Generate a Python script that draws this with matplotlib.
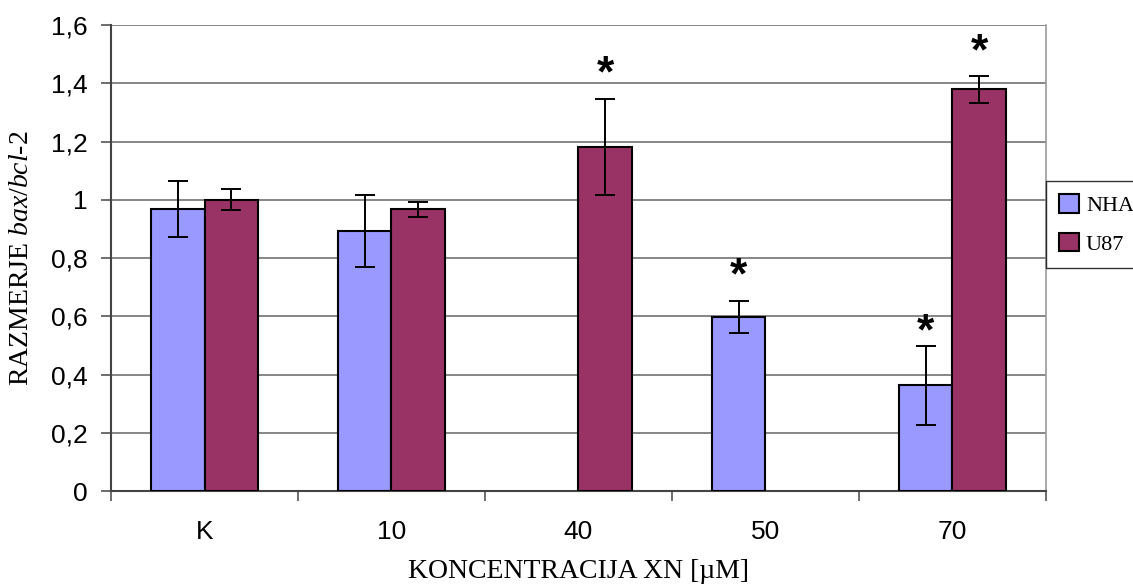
import numpy as np
from matplotlib import pyplot as plt
from matplotlib import transforms

# --- data
categories = ['K', '10', '40', '50', '70']
nha = [0.968, 0.894, 0.0, 0.598, 0.363]
nha_err = [0.096, 0.123, 0.0, 0.055, 0.135]
u87 = [1.0, 0.968, 1.182, 0.0, 1.380]
u87_err = [0.036, 0.025, 0.165, 0.0, 0.046]
# significance marks: (category index, series, height of star centre)
star_cat = [2, 3, 4, 4]
star_series = [1, 0, 0, 1]
star_y = [1.463, 0.77, 0.577, 1.538]

plt.rcParams['mathtext.fontset'] = 'custom'
plt.rcParams['mathtext.rm'] = 'Liberation Serif'
plt.rcParams['mathtext.it'] = 'Liberation Serif:italic'

fig = plt.figure(figsize=(11.33, 5.87), dpi=100)
ax = fig.add_axes([0.098, 0.1635, 0.825, 0.7935])

x = np.arange(len(categories))
w = 1 / 3.5
nha_col = '#9999FF'
u87_col = '#993366'

nha_a = np.array(nha)
u87_a = np.array(u87)
nha_m = nha_a > 0
u87_m = u87_a > 0

ax.bar((x - w / 2)[nha_m], nha_a[nha_m], w, color=nha_col, edgecolor='black', linewidth=1.5, label='NHA', zorder=3)
ax.bar((x + w / 2)[u87_m], u87_a[u87_m], w, color=u87_col, edgecolor='black', linewidth=1.5, label='U87', zorder=3)
ax.errorbar((x - w / 2)[nha_m], nha_a[nha_m], yerr=np.array(nha_err)[nha_m], fmt='none',
            ecolor='black', elinewidth=1.4, capsize=7.5, capthick=1.4, zorder=4)
ax.errorbar((x + w / 2)[u87_m], u87_a[u87_m], yerr=np.array(u87_err)[u87_m], fmt='none',
            ecolor='black', elinewidth=1.4, capsize=7.5, capthick=1.4, zorder=4)

# the asterisk glyph sits high in its box, so nudge it down a little
star_tr = ax.transData + transforms.ScaledTranslation(0, -7 / 72, fig.dpi_scale_trans)
for c, s, yv in zip(star_cat, star_series, star_y):
    xs = x[c] + (w / 2 if s else -w / 2)
    ax.text(xs, yv, '*', ha='center', va='center', fontsize=32, fontweight='bold',
            family='Liberation Sans', transform=star_tr, zorder=5)

ax.set_xlim(-0.5, len(categories) - 0.5)
ax.set_ylim(0, 1.6)
yt = np.arange(0, 1.61, 0.2)
ax.set_yticks(yt)
ax.set_yticklabels([('%g' % v).replace('.', ',') for v in yt], family='Liberation Sans', fontsize=19)
ax.set_xticks(x)
ax.set_xticklabels(categories, family='Liberation Sans', fontsize=19)
ax.set_xticks(np.arange(-0.5, len(categories)), minor=True)
ax.tick_params(axis='x', which='major', length=0, pad=21)
ax.tick_params(axis='x', which='minor', length=7, width=1.2, color='#555555', direction='out')
ax.tick_params(axis='y', length=7, width=1.2, color='#555555', direction='out', pad=10)

ax.grid(axis='y', color='#666666', linewidth=1.1, zorder=0)
ax.spines['top'].set_visible(False)
ax.spines['right'].set_color('#999999')
ax.spines['right'].set_linewidth(1.2)
ax.spines['left'].set_color('#444444')
ax.spines['left'].set_linewidth(1.5)
ax.spines['bottom'].set_color('#444444')
ax.spines['bottom'].set_linewidth(1.5)

ax.set_xlabel('KONCENTRACIJA XN [µM]', family='Liberation Serif', fontsize=20, labelpad=11)
ax.set_ylabel(r'RAZMERJE $\mathit{bax/bcl}$-$\mathit{2}$', family='Liberation Serif', fontsize=20, labelpad=12)

leg = fig.legend(loc='upper left', bbox_to_anchor=(1046 / 1133, 1 - 181 / 587),
                 prop={'family': 'Liberation Serif', 'size': 16}, frameon=True, fancybox=False,
                 edgecolor='black', handlelength=0.9, handleheight=0.9, handletextpad=0.3,
                 borderpad=0.6, labelspacing=0.75, borderaxespad=0)
leg.get_frame().set_linewidth(1.0)

plt.savefig('out.png', dpi=100)
